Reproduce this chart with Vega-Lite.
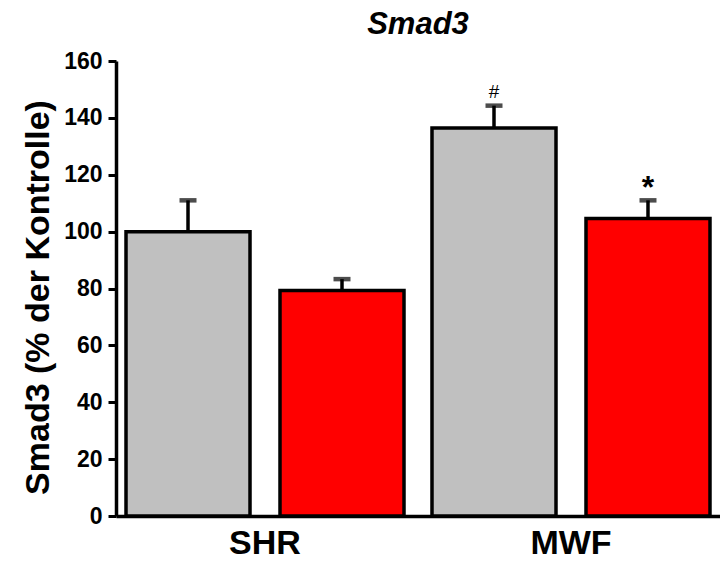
{
  "$schema": "https://vega.github.io/schema/vega-lite/v6.json",
  "autosize": "none",
  "width": 604,
  "height": 455,
  "padding": {"left": 116, "top": 61, "right": 0, "bottom": 45},
  "background": "white",
  "title": {"text": "Smad3", "font": "Liberation Sans", "fontSize": 31, "fontWeight": "bold", "fontStyle": "italic", "anchor": "middle", "offset": 9, "color": "black"},
  "config": {"view": {"stroke": null}},
  "data": {"values": [
    {"group": "SHR", "treatment": "Kontrolle", "value": 100, "upper": 111, "sig": ""},
    {"group": "SHR", "treatment": "Behandlung", "value": 79.3, "upper": 83.3, "sig": ""},
    {"group": "MWF", "treatment": "Kontrolle", "value": 136.4, "upper": 144.3, "sig": "#"},
    {"group": "MWF", "treatment": "Behandlung", "value": 104.6, "upper": 111, "sig": "*"}
  ]},
  "encoding": {
    "x": {"field": "group", "type": "nominal", "sort": ["SHR", "MWF"],
      "scale": {"paddingInner": 0.0915, "paddingOuter": 0.0327},
      "axis": {"title": null, "labelAngle": 0, "labelFont": "Liberation Sans", "labelFontSize": 34, "labelFontWeight": "bold", "labelColor": "black", "labelPadding": 10, "ticks": false, "domainColor": "black", "domainWidth": 3.5}},
    "xOffset": {"field": "treatment", "type": "nominal", "sort": ["Kontrolle", "Behandlung"],
      "scale": {"paddingInner": 0.1948, "paddingOuter": 0}}
  },
  "layer": [
    {
      "mark": {"type": "rule", "color": "black", "strokeWidth": 3.5},
      "encoding": {
        "y": {"field": "value", "type": "quantitative"},
        "y2": {"field": "upper"}
      }
    },
    {
      "mark": {"type": "tick", "color": "black", "size": 17, "thickness": 4.5, "orient": "horizontal"},
      "encoding": {
        "y": {"field": "upper", "type": "quantitative"}
      }
    },
    {
      "mark": {"type": "bar", "stroke": "black", "strokeWidth": 3.5},
      "encoding": {
        "y": {"field": "value", "type": "quantitative",
          "scale": {"domain": [0, 160], "nice": false},
          "axis": {"title": "Smad3 (% der Kontrolle)", "titleFont": "Liberation Sans", "titleFontSize": 34, "titleFontWeight": "bold", "titleColor": "black", "titlePadding": 8, "titleY": 236,
            "values": [0, 10, 20, 30, 40, 50, 60, 70, 80, 90, 100, 110, 120, 130, 140, 150, 160],
            "labelExpr": "datum.value % 20 === 0 ? datum.label : ''",
            "tickSize": {"expr": "datum.value % 20 === 0 ? 8 : 5"},
            "labelFont": "Liberation Sans", "labelFontSize": 23, "labelFontWeight": "bold", "labelColor": "black", "labelPadding": 6,
            "tickColor": "black", "tickWidth": 3, "domainColor": "black", "domainWidth": 3.5, "grid": false}},
        "color": {"field": "treatment", "type": "nominal", "sort": ["Kontrolle", "Behandlung"],
          "scale": {"domain": ["Kontrolle", "Behandlung"], "range": ["#C0C0C0", "#FF0000"]}, "legend": null}
      }
    },
    {
      "transform": [{"filter": "datum.sig === '#'"}],
      "mark": {"type": "text", "font": "Liberation Sans", "fontSize": 19, "color": "black", "baseline": "bottom", "dy": -4},
      "encoding": {"y": {"field": "upper", "type": "quantitative"}, "text": {"field": "sig"}}
    },
    {
      "transform": [{"filter": "datum.sig === '*'"}],
      "mark": {"type": "text", "font": "Liberation Sans", "fontSize": 32, "fontWeight": "bold", "color": "black", "baseline": "middle", "dy": -12},
      "encoding": {"y": {"field": "upper", "type": "quantitative"}, "text": {"field": "sig"}}
    }
  ]
}
